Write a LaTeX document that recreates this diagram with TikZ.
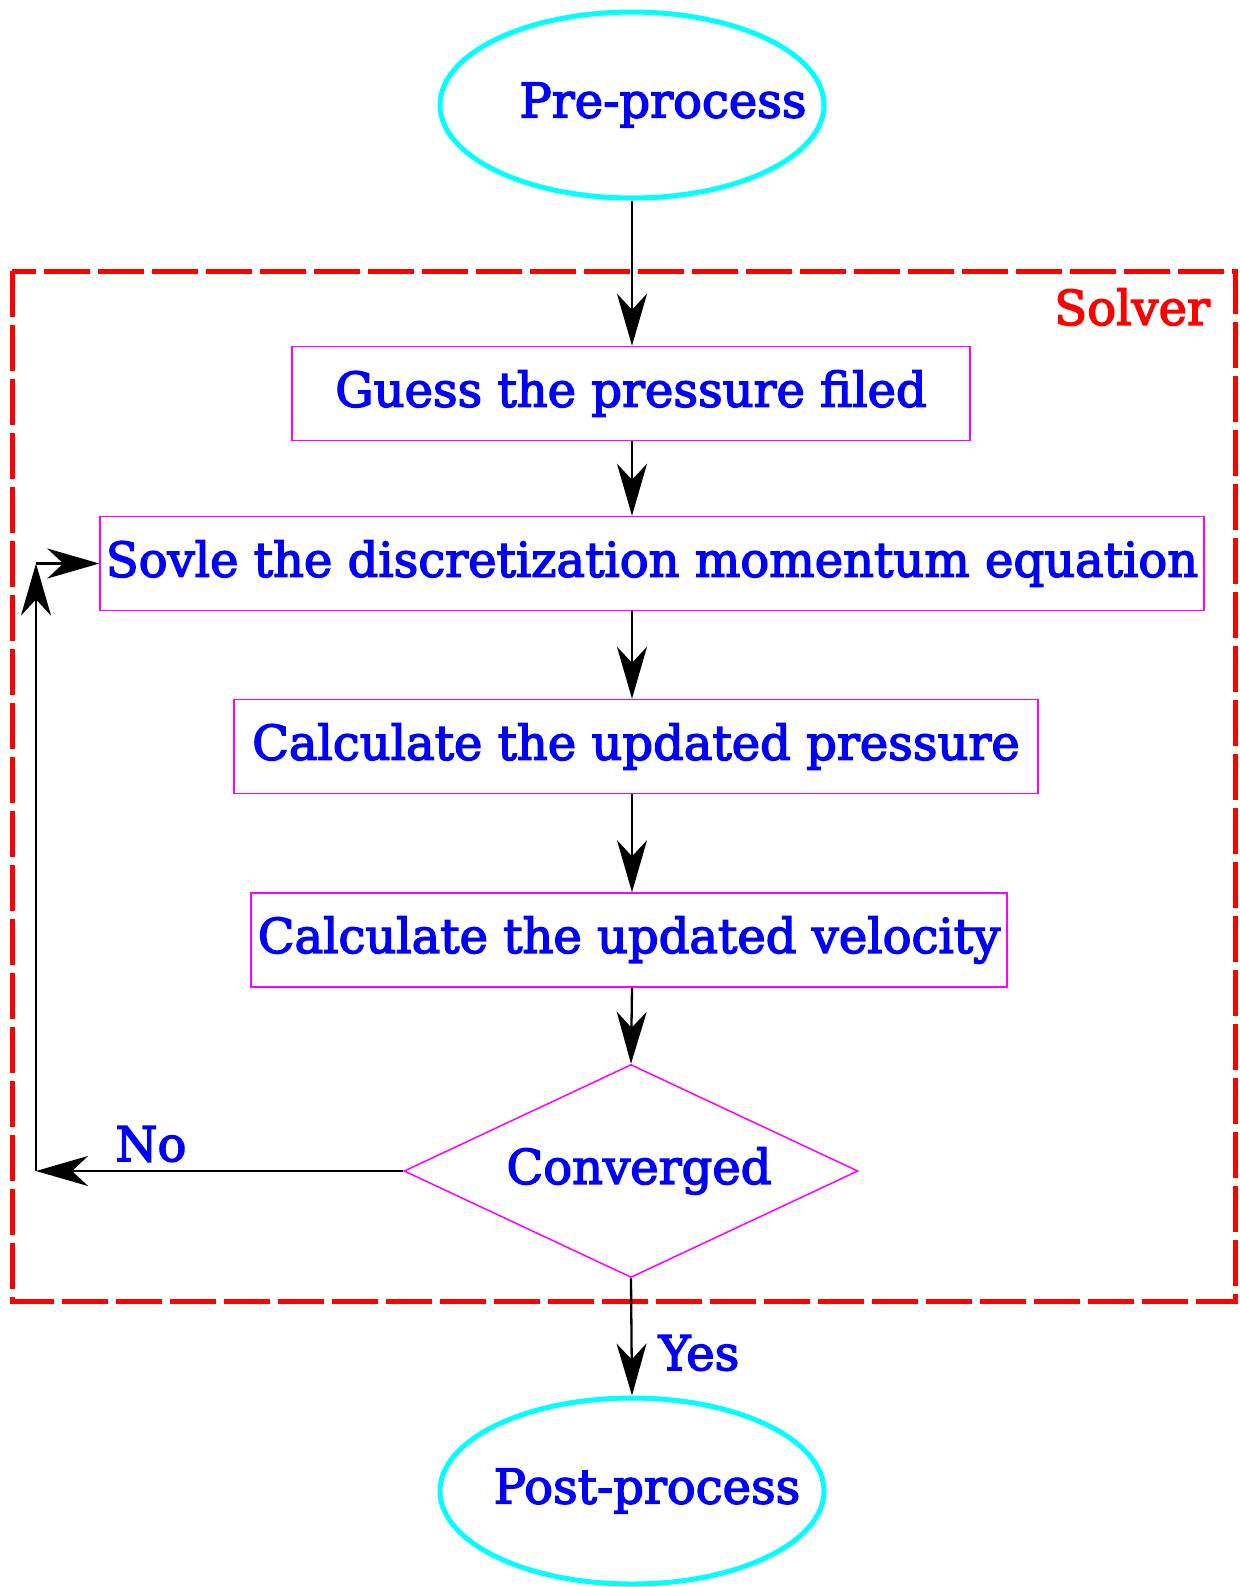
\documentclass[tikz,border=0pt]{standalone}
\usepackage{fontspec}
\setmainfont[FakeBold=3,AutoFakeBold=3]{DejaVu Serif}
\usepackage{tikz}
\usetikzlibrary{
    shapes.geometric,
    arrows.meta
}
\definecolor{termcol}{RGB}{0,255,255}
\definecolor{boxcol}{RGB}{255,0,255}
\definecolor{txtcol}{RGB}{0,0,255}
\definecolor{framecol}{RGB}{255,0,0}
\newcommand{\bigfont}{\fontsize{24}{28}\selectfont\bfseries}
\tikzset{
  stepbox/.style={rectangle, draw=boxcol, line width=0.75pt,
                  minimum height=47pt, inner sep=0pt,
                  text=txtcol, font=\bigfont},
  term/.style={ellipse, draw=termcol, line width=2.5pt,
               minimum width=192pt, minimum height=93pt, inner sep=0pt},
  decide/.style={diamond, draw=boxcol, line width=0.75pt, aspect=2.13,
                 minimum width=227pt, minimum height=106.5pt, inner sep=0pt,
                 text=txtcol, font=\bigfont},
  lbl/.style={text=txtcol, font=\bigfont},
  arr/.style={-{Stealth[length=26pt, width=15pt, inset=8pt]}, line width=1.15pt},
  frame/.style={draw=framecol, line width=2.5pt, dash pattern=on 23pt off 4pt},
}

\begin{document}
\begin{tikzpicture}[x=0.5pt, y=-0.5pt]
  \useasboundingbox (0,0) rectangle (1239,1587);
  % solver frame
  \draw[frame] (12,271) rectangle (1235,1301);
  \node[text=framecol, font=\bigfont, anchor=east] (solver) at (1217,307) {Solver};

  \node[term, label={[lbl, xshift=15.5pt]center:Pre-process}] (pre) at (632,105) {};
  \node[stepbox, minimum width=339pt] (guess) at (631,393.5) {Guess the pressure filed};
  \node[stepbox, minimum width=552pt] (sovle) at (652,563.5) {Sovle the discretization momentum equation};
  \node[stepbox, minimum width=402pt] (calcp) at (636,746.5) {Calculate the updated pressure};
  \node[stepbox, minimum width=378pt] (calcv) at (629,940) {Calculate the updated velocity};
  \node[decide] (conv) at (631,1171) {\hspace*{8pt}Converged};
  \node[term, label={[lbl, xshift=7.5pt]center:Post-process}] (post) at (632,1491) {};

  \coordinate (nocorner) at (36,1171);
  \node[lbl] (no) at (151,1144) {No};
  \node[lbl] (yes) at (699,1353) {Yes};

  \draw[arr] (pre.south) -- (pre.south |- guess.north);
  \draw[arr] (pre.south |- guess.south) -- (pre.south |- sovle.north);
  \draw[arr] (pre.south |- sovle.south) -- (pre.south |- calcp.north);
  \draw[arr] (pre.south |- calcp.south) -- (pre.south |- calcv.north);
  \draw[arr] (pre.south |- calcv.south) -- (conv.north);
  \draw[arr] (conv.south) -- (post.north);
  % no-branch back to the momentum step
  \draw[arr] (conv.west) -- (nocorner);
  \draw[arr] (nocorner) -- (nocorner |- sovle.west);
  \draw[arr] (nocorner |- sovle.west) -- (sovle.west);
\end{tikzpicture}
\end{document}
